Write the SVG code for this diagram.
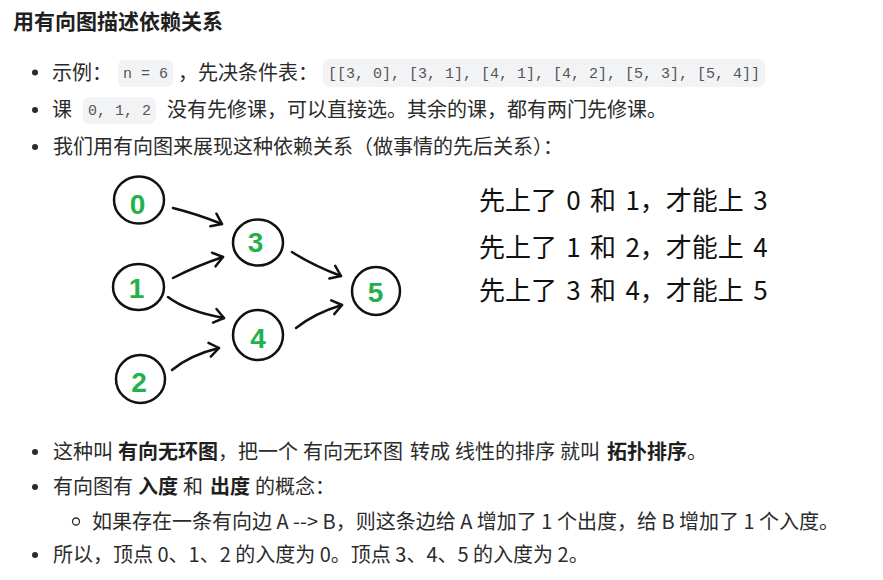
<svg xmlns="http://www.w3.org/2000/svg" width="883" height="580" viewBox="0 0 883 580">
<style>
.t{font-family:"Noto Sans CJK SC","Liberation Sans",sans-serif;font-size:20px;fill:#2b2b2b}
.b{font-weight:700;fill:#1f1f1f}
.h{font-family:"Noto Sans CJK SC","Liberation Sans",sans-serif;font-size:21px;font-weight:700;fill:#1f1f1f}
.c{font-family:"Liberation Mono",monospace;font-size:15px;fill:#555}
.cb{fill:#f2f3f5}
.dot{fill:#2b2b2b}
.ring{fill:none;stroke:#2b2b2b;stroke-width:1.3}
.r{font-family:"Noto Sans CJK SC","Liberation Sans",sans-serif;font-size:26px;fill:#111;word-spacing:3.5px}
.nc{fill:#fff;stroke:#111;stroke-width:2.5}
.nt{font-family:"Liberation Sans",Arial,sans-serif;font-size:28px;font-weight:700;fill:#22b14c;text-anchor:middle}
.e{fill:none;stroke:#111;stroke-width:2.5;stroke-linecap:round;marker-end:url(#ah)}
</style>
<defs>
<marker id="ah" markerUnits="userSpaceOnUse" viewBox="-14 -10 16 20" markerWidth="16" markerHeight="20" refX="0" refY="0" orient="auto" overflow="visible">
<path d="M-9,-7.5 L0,0 L-10,6.5" fill="none" stroke="#111" stroke-width="2.5" stroke-linecap="round" stroke-linejoin="round"/>
</marker>
</defs>
<rect width="883" height="580" fill="#fff"/>

<text class="h" x="13" y="29">用有向图描述依赖关系</text>

<g id="bullets-top">
<circle class="dot" cx="35" cy="72.5" r="3"/>
<text class="t" x="52" y="80">示例：</text>
<rect class="cb" x="118" y="60" width="55" height="27" rx="6"/>
<text class="c" x="145.5" y="78" text-anchor="middle">n = 6</text>
<text class="t" x="178" y="80">，先决条件表：</text>
<rect class="cb" x="323" y="59" width="442" height="28" rx="7"/>
<text class="c" x="544" y="78" text-anchor="middle">[[3, 0], [3, 1], [4, 1], [4, 2], [5, 3], [5, 4]]</text>

<circle class="dot" cx="35" cy="110" r="3"/>
<text class="t" x="52" y="117">课</text>
<rect class="cb" x="83" y="97" width="73" height="27" rx="6"/>
<text class="c" x="119.5" y="115" text-anchor="middle">0, 1, 2</text>
<text class="t" x="167" y="117">没有先修课，可以直接选。其余的课，都有两门先修课。</text>

<circle class="dot" cx="35" cy="147" r="3"/>
<text class="t" x="53" y="154">我们用有向图来展现这种依赖关系（做事情的先后关系）：</text>
</g>

<g id="connectors">
<path class="e" d="M173,208 Q197,214 222,224"/>
<path class="e" d="M173,278 Q196,266 223,257"/>
<path class="e" d="M168,297 Q186,311 224,318"/>
<path class="e" d="M172,370 Q190,355 219,348"/>
<path class="e" d="M292,252 Q312,265 341,276"/>
<path class="e" d="M296,328 Q315,313 342,305"/>
</g>

<g id="node-0"><ellipse class="nc" cx="139" cy="200" rx="25" ry="23.5"/><text class="nt" x="137.5" y="214">0</text></g>
<g id="node-1"><ellipse class="nc" cx="138.5" cy="287" rx="25.5" ry="23"/><text class="nt" x="136.5" y="298">1</text></g>
<g id="node-2"><ellipse class="nc" cx="140.5" cy="379" rx="24.5" ry="24"/><text class="nt" x="139" y="392">2</text></g>
<g id="node-3"><ellipse class="nc" cx="258" cy="242.5" rx="25" ry="23"/><text class="nt" x="255.5" y="252">3</text></g>
<g id="node-4"><ellipse class="nc" cx="258" cy="335" rx="25" ry="25"/><text class="nt" x="258" y="348">4</text></g>
<g id="node-5"><ellipse class="nc" cx="376" cy="291" rx="24" ry="24"/><text class="nt" x="375.5" y="302">5</text></g>

<g id="notes">
<text class="r" x="479" y="210">先上了 0 和 1，才能上 3</text>
<text class="r" x="479" y="256.5">先上了 1 和 2，才能上 4</text>
<text class="r" x="479" y="300">先上了 3 和 4，才能上 5</text>
</g>

<g id="bullets-bottom">
<circle class="dot" cx="35" cy="452" r="3"/>
<text class="t" x="53" y="459">这种叫</text>
<text class="t b" x="118" y="459">有向无环图</text>
<text class="t" x="218" y="459">，把一个</text>
<text class="t" x="303" y="459">有向无环图</text>
<text class="t" x="410" y="459">转成</text>
<text class="t" x="455" y="459">线性的排序</text>
<text class="t" x="560" y="459">就叫</text>
<text class="t b" x="607" y="459">拓扑排序</text>
<text class="t" x="687" y="459">。</text>

<circle class="dot" cx="35" cy="487" r="3"/>
<text class="t" x="53" y="494">有向图有</text>
<text class="t b" x="138" y="494">入度</text>
<text class="t" x="183" y="494">和</text>
<text class="t b" x="210" y="494">出度</text>
<text class="t" x="255" y="494">的概念：</text>

<circle class="ring" cx="76" cy="521.5" r="3.5"/>
<text class="t" x="92" y="529">如果存在一条有向边 A --&gt; B，则这条边给 A 增加了 1 个出度，给 B 增加了 1 个入度。</text>

<circle class="dot" cx="35" cy="555" r="3"/>
<text class="t" x="53" y="562">所以，顶点 0、1、2 的入度为 0。顶点 3、4、5 的入度为 2。</text>
</g>
</svg>
